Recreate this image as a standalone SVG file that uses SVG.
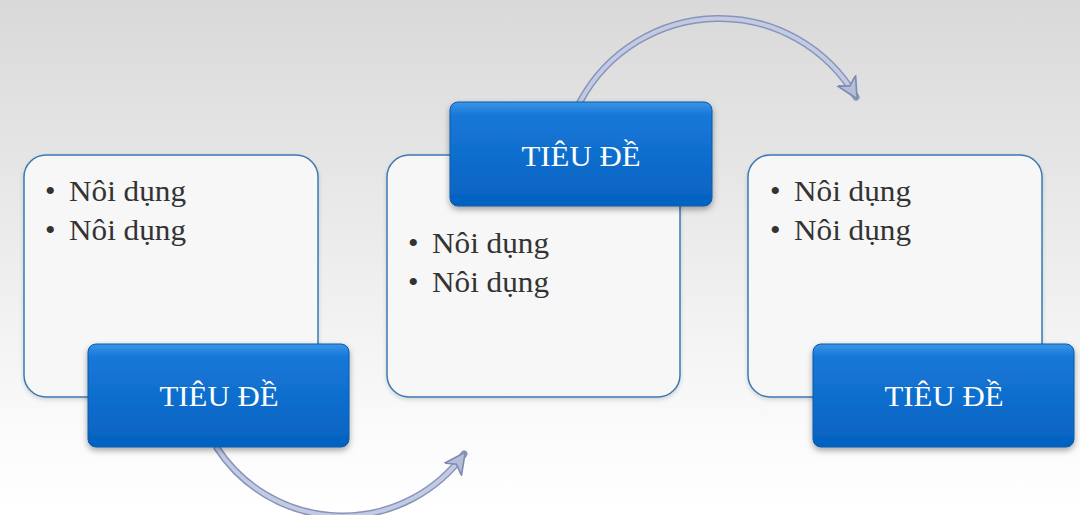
<svg xmlns="http://www.w3.org/2000/svg" width="1080" height="515" viewBox="0 0 1080 515">
<defs>
<linearGradient id="bg" x1="0" y1="0" x2="0" y2="1">
<stop offset="0" stop-color="#d9d9d9"/>
<stop offset="0.85" stop-color="#fbfbfb"/>
<stop offset="1" stop-color="#ffffff"/>
</linearGradient>
<linearGradient id="blue" x1="0" y1="0" x2="0" y2="1">
<stop offset="0" stop-color="#3a95e8"/>
<stop offset="0.12" stop-color="#1878d8"/>
<stop offset="1" stop-color="#0462c0"/>
</linearGradient>
<filter id="sh" x="-10%" y="-10%" width="120%" height="130%">
<feDropShadow dx="0" dy="3" stdDeviation="3" flood-color="#000" flood-opacity="0.35"/>
</filter>
<filter id="sh2" x="-10%" y="-10%" width="120%" height="130%">
<feDropShadow dx="0" dy="2" stdDeviation="2" flood-color="#000" flood-opacity="0.15"/>
</filter>
<marker id="ah" viewBox="0 0 12 12" refX="9" refY="6" markerWidth="4.2" markerHeight="4.2" orient="auto" markerUnits="strokeWidth">
<path d="M0,1 L10,6 L0,11 L3,6 Z" fill="#b4bedb" stroke="#7f8cb0" stroke-width="0.8"/>
</marker>
</defs>
<style>
.box{fill:#f7f7f7;stroke:#3b7ab4;stroke-width:1.5}
.lbl{fill:url(#blue);stroke:#0a5aa8;stroke-width:1}
.body{font-family:"Liberation Serif","Times New Roman",serif;font-size:30px;fill:#333}
.ttl{font-family:"Liberation Serif","Times New Roman",serif;font-size:30px;fill:#ffffff;text-anchor:middle}
.arc{fill:none;stroke:#c3cbe4;stroke-width:4;stroke-linecap:round}
.arcEdge{fill:none;stroke:#8894b8;stroke-width:7;stroke-linecap:round}
</style>
<rect width="1080" height="515" fill="url(#bg)"/>
<g id="connectors">
<path class="arcEdge" d="M217,448 A150,150 0 0 0 464,454"/>
<path class="arc" d="M217,448 A150,150 0 0 0 464,454"/>
<path d="M217,448 A150,150 0 0 0 464,454" fill="none" stroke="none" stroke-width="6" marker-end="url(#ah)"/>
<path class="arcEdge" d="M580,102 A158,158 0 0 1 856,97"/>
<path class="arc" d="M580,102 A158,158 0 0 1 856,97"/>
<path d="M580,102 A158,158 0 0 1 856,97" fill="none" stroke="none" stroke-width="6" marker-end="url(#ah)"/>
</g>
<g id="node1">
<rect class="box" x="24" y="155" width="294" height="242" rx="22" filter="url(#sh2)"/>
<text class="body" x="45" y="201">•</text>
<text class="body" x="69" y="201" textLength="117" lengthAdjust="spacingAndGlyphs">Nôi dụng</text>
<text class="body" x="45" y="240">•</text>
<text class="body" x="69" y="240" textLength="117" lengthAdjust="spacingAndGlyphs">Nôi dụng</text>
<rect class="lbl" x="88" y="344" width="261" height="103" rx="8" filter="url(#sh)"/>
<text class="ttl" x="219" y="406" textLength="119" lengthAdjust="spacingAndGlyphs">TIÊU ĐỀ</text>
</g>
<g id="node2">
<rect class="box" x="387" y="155" width="293" height="242" rx="22" filter="url(#sh2)"/>
<text class="body" x="408" y="253">•</text>
<text class="body" x="432" y="253" textLength="117" lengthAdjust="spacingAndGlyphs">Nôi dụng</text>
<text class="body" x="408" y="292">•</text>
<text class="body" x="432" y="292" textLength="117" lengthAdjust="spacingAndGlyphs">Nôi dụng</text>
<rect class="lbl" x="450" y="102" width="262" height="104" rx="8" filter="url(#sh)"/>
<text class="ttl" x="581" y="166" textLength="119" lengthAdjust="spacingAndGlyphs">TIÊU ĐỀ</text>
</g>
<g id="node3">
<rect class="box" x="748" y="155" width="294" height="242" rx="22" filter="url(#sh2)"/>
<text class="body" x="770" y="201">•</text>
<text class="body" x="794" y="201" textLength="117" lengthAdjust="spacingAndGlyphs">Nôi dụng</text>
<text class="body" x="770" y="240">•</text>
<text class="body" x="794" y="240" textLength="117" lengthAdjust="spacingAndGlyphs">Nôi dụng</text>
<rect class="lbl" x="813" y="344" width="261" height="103" rx="8" filter="url(#sh)"/>
<text class="ttl" x="944" y="406" textLength="119" lengthAdjust="spacingAndGlyphs">TIÊU ĐỀ</text>
</g>
</svg>
